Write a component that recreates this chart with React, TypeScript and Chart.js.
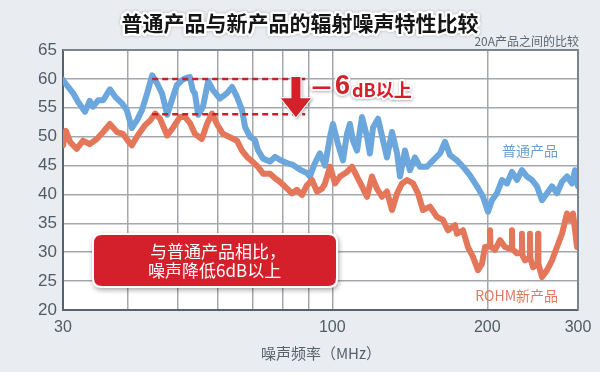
import React, { useEffect, useRef } from "react";
import { Chart, registerables } from "chart.js";

Chart.register(...registerables);

// ---- Data (MHz, dBµV) ----
const regularFreq = [
  30.0, 30.7, 31.4, 32.1, 33.1, 33.8, 34.3, 35.1, 35.9, 37.0, 37.9, 39.1, 39.9, 40.8, 41.8, 42.7,
  43.7, 44.7, 45.7, 46.7, 47.8, 48.8, 49.9, 51.1, 52.2, 52.9, 53.6, 54.1, 54.9, 56.1, 57.4, 58.7,
  60.5, 62.4, 63.9, 65.3, 66.8, 67.7, 69.2, 70.8, 71.7, 73.4, 75.7, 77.4, 79.1, 81.7, 83.9, 86.5,
  89.3, 90.5, 92.5, 94.6, 96.8, 99.0, 100.3, 102.6, 104.9, 106.8, 108.2, 109.7, 111.7, 114.2,
  116.8, 118.3, 120.0, 122.7, 125.5, 127.7, 130.6, 133.6, 135.4, 138.4, 141.5, 144.7, 148.0,
  152.7, 156.9, 161.9, 165.5, 169.3, 174.6, 179.4, 185.1, 191.0, 196.2, 200.6, 204.2, 208.8,
  213.6, 218.4, 223.3, 228.4, 233.5, 238.8, 244.2, 249.7, 255.4, 261.2, 267.1, 273.1, 279.3,
  285.6, 292.1, 296.0, 300.0,
];
const regularDb = [
  59.8, 58.6, 57.5, 56.0, 54.3, 56.2, 55.2, 56.3, 56.3, 58.2, 56.9, 55.7, 54.6, 51.5, 52.9, 54.6,
  57.5, 60.6, 59.2, 57.5, 53.8, 56.3, 58.9, 59.8, 60.2, 60.3, 58.0, 57.5, 53.8, 55.2, 59.6, 58.0,
  56.6, 57.5, 58.6, 56.9, 54.6, 51.7, 50.0, 49.4, 47.7, 46.2, 45.7, 46.5, 46.0, 45.4, 45.1, 44.3,
  43.7, 43.1, 45.4, 47.1, 45.0, 50.0, 52.2, 48.7, 45.9, 50.5, 52.2, 49.3, 47.6, 53.4,
  50.0, 47.1, 51.6, 53.1, 49.3, 46.4, 50.8, 47.1, 43.1, 47.6, 44.2, 46.4, 44.8,
  44.8, 45.9, 47.1, 49.1, 46.8, 45.9, 44.8, 43.3, 41.4, 39.6, 37.0, 39.0, 40.2,
  42.5, 41.9, 43.9, 42.5, 44.2, 43.1, 42.5, 41.4, 39.0, 40.2, 41.4, 40.2, 42.2,
  43.1, 41.9, 44.2, 41.4,
];

const rohmFreq = [
  30.0, 30.4, 31.0, 31.9, 32.8, 33.8, 34.9, 35.9, 37.0, 38.2, 39.2, 40.1, 40.8, 41.9, 43.3, 44.3,
  45.3, 46.3, 47.8, 49.1, 50.6, 51.8, 52.9, 54.1, 55.8, 57.1, 58.4, 59.7, 61.3, 63.3, 65.3, 66.8,
  68.3, 70.1, 71.7, 73.4, 75.7, 77.4, 79.1, 81.7, 83.5, 85.4, 87.3, 89.3, 91.3, 93.4, 95.5, 96.8,
  99.0, 101.2, 103.5, 106.8, 109.2, 111.7, 114.2, 116.8, 119.4, 122.1, 124.9, 127.7, 130.6,
  133.6, 136.6, 139.7, 143.5, 146.7, 150.0, 154.8, 159.7, 164.0, 167.7, 173.1, 174.6, 179.4,
  183.4, 187.6, 191.8, 195.3, 197.9, 202.0, 202.4, 202.8, 207.0, 211.7, 216.4, 222.9, 223.3,
  223.7, 228.4, 233.1, 233.5, 233.9, 236.7, 241.6, 242.0, 242.4, 245.3, 250.5, 250.9, 251.3,
  255.4, 261.2, 267.1, 273.1, 279.3, 285.6, 289.4, 293.4, 298.7, 300.0,
];
const rohmDb = [
  48.5, 51.0, 49.0, 47.9, 49.3, 48.7, 49.6, 50.8, 52.2, 50.8, 50.5, 49.3, 48.5, 50.2, 52.0, 52.8,
  54.0, 53.1, 50.2, 51.6, 53.4, 53.4, 52.4, 50.5, 49.6, 52.2, 54.0, 52.2, 50.5, 49.9, 49.3, 47.6,
  46.5, 45.6, 44.8, 43.6, 43.6, 42.8, 42.2, 41.0, 40.2, 40.8, 39.9, 41.6, 42.5, 40.5, 41.0, 41.9,
  44.8, 41.9, 43.1, 43.9, 44.8, 43.1, 41.4, 39.6, 43.1, 41.0, 39.6, 40.5, 37.3,
  40.2, 41.9, 42.5, 41.9, 40.2, 37.3, 37.9, 36.1, 35.6, 33.8, 34.7, 33.2, 33.8,
  30.9, 29.2, 26.9, 28.0, 30.9, 31.0, 33.8, 31.0, 30.4, 32.1, 30.9, 30.5, 33.8,
  30.5, 29.8, 30.0, 33.2, 29.5, 28.6, 29.0, 33.2, 29.0, 27.4, 28.0, 33.2, 28.0,
  25.7, 26.9, 28.6, 30.9, 33.2, 36.7, 35.6, 36.7, 30.9, 35.0,
];

const xGridValues = [30, 40, 50, 60, 70, 80, 90, 100, 200, 300];
const xLabelValues = [30, 100, 200, 300];
const yMin = 20;
const yMax = 65;
const yStep = 5;

// -6dB annotation levels
const levelHigh = 60;
const levelLow = 53.9;
const dashFrom = 44.7;
const dashTo = 88.6;
const arrowFreq = 85;

const titleText = "普通产品与新产品的辐射噪声特性比较";
const subtitleText = "20A产品之间的比较";
const xTitleText = "噪声频率（MHz）";
const regularLabel = "普通产品";
const rohmLabel = "ROHM新产品";
const boxLines = ["与普通产品相比，", "噪声降低6dB以上"];

const CJK = '"Noto Sans CJK SC", "Liberation Sans", sans-serif';
const NUM = '"Liberation Sans", "Noto Sans CJK SC", sans-serif';

function roundRect(ctx: CanvasRenderingContext2D, x: number, y: number, w: number, h: number, r: number) {
  ctx.beginPath();
  ctx.moveTo(x + r, y);
  ctx.lineTo(x + w - r, y);
  ctx.quadraticCurveTo(x + w, y, x + w, y + r);
  ctx.lineTo(x + w, y + h - r);
  ctx.quadraticCurveTo(x + w, y + h, x + w - r, y + h);
  ctx.lineTo(x + r, y + h);
  ctx.quadraticCurveTo(x, y + h, x, y + h - r);
  ctx.lineTo(x, y + r);
  ctx.quadraticCurveTo(x, y, x + r, y);
  ctx.closePath();
}

const decorPlugin = {
  id: "decor",
  beforeDraw(chart: any) {
    const { ctx, chartArea: a, width, height } = chart;
    ctx.save();
    ctx.fillStyle = "#e9edf1";
    ctx.fillRect(0, 0, width, height);
    ctx.fillStyle = "#ffffff";
    ctx.fillRect(a.left, a.top, a.right - a.left, a.bottom - a.top);
    ctx.restore();
  },
  afterDatasetsDraw(chart: any) {
    const { ctx, chartArea: a } = chart;
    const xs = chart.scales.x;
    const ys = chart.scales.y;
    ctx.save();
    // frame top & right
    ctx.strokeStyle = "#7d868e";
    ctx.lineWidth = 2;
    ctx.beginPath();
    ctx.moveTo(a.left, a.top);
    ctx.lineTo(a.right, a.top);
    ctx.lineTo(a.right, a.bottom);
    ctx.stroke();

    // arrow
    const ax = xs.getPixelForValue(arrowFreq);
    const yTop = ys.getPixelForValue(levelHigh) - 2;
    const yTip = ys.getPixelForValue(levelLow) + 3;
    const headTop = yTip - 19;
    ctx.save();
    ctx.shadowColor = "rgba(0,0,0,0.35)";
    ctx.shadowBlur = 3;
    ctx.shadowOffsetX = 1;
    ctx.shadowOffsetY = 1;
    ctx.beginPath();
    ctx.moveTo(ax - 4.5, yTop);
    ctx.lineTo(ax + 4.5, yTop);
    ctx.lineTo(ax + 4.5, headTop);
    ctx.lineTo(ax + 15, headTop);
    ctx.lineTo(ax, yTip);
    ctx.lineTo(ax - 15, headTop);
    ctx.lineTo(ax - 4.5, headTop);
    ctx.closePath();
    ctx.fillStyle = "#d4202a";
    ctx.strokeStyle = "#ffffff";
    ctx.lineWidth = 2;
    ctx.lineJoin = "round";
    ctx.stroke();
    ctx.shadowColor = "transparent";
    ctx.fill();
    ctx.restore();

    // -6dB以上 label
    const drawOutlined = (t: string, x: number, y: number, font: string) => {
      ctx.font = font;
      ctx.textAlign = "left";
      ctx.textBaseline = "middle";
      ctx.save();
      ctx.shadowColor = "rgba(0,0,0,0.3)";
      ctx.shadowBlur = 3;
      ctx.shadowOffsetY = 1;
      ctx.strokeStyle = "#ffffff";
      ctx.lineWidth = 4;
      ctx.lineJoin = "round";
      ctx.strokeText(t, x, y);
      ctx.restore();
      ctx.fillStyle = "#d4202a";
      ctx.fillText(t, x, y);
    };
    drawOutlined("－", 309, 87, `bold 25px ${CJK}`);
    drawOutlined("6", 335, 87, `bold 27px ${NUM}`);
    drawOutlined("dB以上", 352, 90, `bold 18px ${CJK}`);

    // red box
    const bx = 92, by = 233, bw = 246, bh = 55;
    ctx.save();
    ctx.shadowColor = "rgba(0,0,0,0.35)";
    ctx.shadowBlur = 5;
    ctx.shadowOffsetX = 1;
    ctx.shadowOffsetY = 2;
    roundRect(ctx, bx, by, bw, bh, 9);
    ctx.fillStyle = "#ffffff";
    ctx.fill();
    ctx.restore();
    roundRect(ctx, bx + 2, by + 2, bw - 4, bh - 4, 8);
    ctx.fillStyle = "#d4202a";
    ctx.fill();
    ctx.fillStyle = "#ffffff";
    ctx.font = `17px ${CJK}`;
    ctx.textAlign = "left";
    ctx.textBaseline = "middle";
    ctx.fillText(boxLines[0], 150, 252);
    ctx.fillText(boxLines[1], 148, 271);

    // series labels
    ctx.font = `14px ${CJK}`;
    ctx.textAlign = "right";
    ctx.fillStyle = "#6b9fd0";
    ctx.fillText(regularLabel, 558, 151);
    ctx.fillStyle = "#e07a5e";
    ctx.fillText(rohmLabel, 558, 296);
    ctx.restore();
  },
  afterDraw(chart: any) {
    const { ctx } = chart;
    ctx.save();
    // title
    ctx.font = `bold 21px ${CJK}`;
    ctx.textAlign = "center";
    ctx.textBaseline = "middle";
    ctx.save();
    ctx.shadowColor = "rgba(0,0,0,0.25)";
    ctx.shadowBlur = 3;
    ctx.strokeStyle = "#ffffff";
    ctx.lineWidth = 5;
    ctx.lineJoin = "round";
    ctx.strokeText(titleText, 300, 23);
    ctx.restore();
    ctx.fillStyle = "#151515";
    ctx.fillText(titleText, 300, 23);
    // subtitle
    ctx.font = `12px ${CJK}`;
    ctx.textAlign = "right";
    ctx.fillStyle = "#5c6670";
    ctx.fillText(subtitleText, 579, 41);
    // x title
    ctx.font = `15px ${CJK}`;
    ctx.textAlign = "center";
    ctx.fillStyle = "#56616c";
    ctx.fillText(xTitleText, 321, 353);
    ctx.restore();
  },
};

export default function App() {
  const ref = useRef<HTMLCanvasElement | null>(null);
  useEffect(() => {
    document.body.style.margin = "0";
    const canvas = ref.current!;
    const chart = new Chart(canvas, {
      type: "line",
      data: {
        datasets: [
          {
            label: "dashHigh",
            data: [{ x: dashFrom, y: levelHigh }, { x: dashTo, y: levelHigh }],
            borderColor: "#c8202a",
            borderWidth: 2.5,
            borderDash: [6, 4],
            pointRadius: 0,
            order: 0,
          },
          {
            label: "dashLow",
            data: [{ x: dashFrom, y: levelLow }, { x: dashTo, y: levelLow }],
            borderColor: "#c8202a",
            borderWidth: 2.5,
            borderDash: [6, 4],
            pointRadius: 0,
            order: 0,
          },
          {
            label: rohmLabel,
            data: rohmFreq.map((f, i) => ({ x: f, y: rohmDb[i] })),
            borderColor: "#e4765a",
            borderWidth: 6,
            pointRadius: 0,
            tension: 0,
            borderJoinStyle: "round",
            borderCapStyle: "round",
            order: 1,
          },
          {
            label: regularLabel,
            data: regularFreq.map((f, i) => ({ x: f, y: regularDb[i] })),
            borderColor: "#6ba6dc",
            borderWidth: 6,
            pointRadius: 0,
            tension: 0,
            borderJoinStyle: "round",
            borderCapStyle: "round",
            order: 2,
          },
        ],
      },
      options: {
        animation: false,
        responsive: false,
        devicePixelRatio: 1,
        layout: { padding: { left: 0, right: 22, top: 50, bottom: 0 } },
        plugins: { legend: { display: false }, tooltip: { enabled: false }, title: { display: false } },
        scales: {
          x: {
            type: "logarithmic",
            min: 30,
            max: 300,
            afterBuildTicks: (s: any) => {
              s.ticks = xGridValues.map((v) => ({ value: v }));
            },
            afterFit: (s: any) => {
              s.height = 62;
            },
            ticks: {
              autoSkip: false,
              maxRotation: 0,
              padding: 8,
              color: "#4f5b66",
              font: { size: 16, family: NUM },
              callback: (v: any) => (xLabelValues.includes(Number(v)) ? String(v) : ""),
            },
            grid: { color: "#a4a8ac", lineWidth: 1.5, drawTicks: false },
            border: { color: "#56636e", width: 2 },
          },
          y: {
            type: "linear",
            min: yMin,
            max: yMax,
            afterFit: (s: any) => {
              s.width = 63;
            },
            ticks: {
              stepSize: yStep,
              padding: 6,
              color: "#4f5b66",
              font: { size: 17, family: NUM },
            },
            grid: { color: "#a4a8ac", lineWidth: 1.5, drawTicks: false },
            border: { color: "#56636e", width: 2 },
          },
        },
      },
      plugins: [decorPlugin],
    } as any);
    return () => chart.destroy();
  }, []);
  return (
    <div style={{ position: "absolute", left: 0, top: 0, width: 600, height: 372 }}>
      <canvas ref={ref} width={600} height={372} style={{ width: 600, height: 372, display: "block" }} />
    </div>
  );
}
